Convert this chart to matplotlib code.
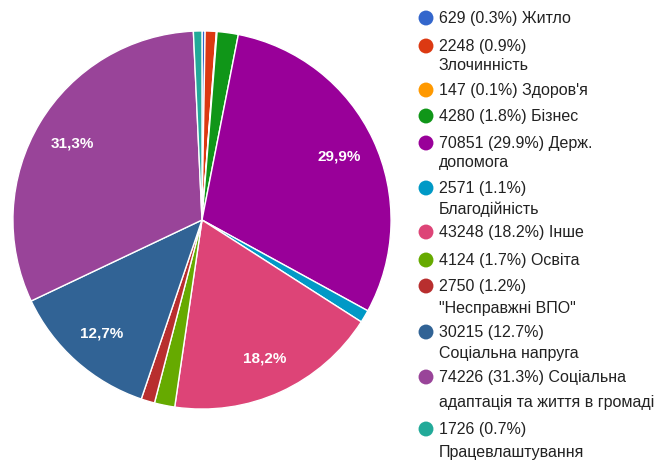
import matplotlib
matplotlib.use('Agg')
import matplotlib.pyplot as plt

plt.rcParams['font.family'] = ['Liberation Sans', 'DejaVu Sans']

# дані з діаграми
categories = ['Житло', 'Злочинність', "Здоров'я", 'Бізнес', 'Держ.\nдопомога',
              'Благодійність', 'Інше', 'Освіта', '"Несправжні ВПО"',
              'Соціальна напруга', 'Соціальна\nадаптація та життя в громаді',
              'Працевлаштування']
values = [629, 2248, 147, 4280, 70851, 2571, 43248, 4124, 2750, 30215, 74226, 1726]
colors = ['#3366cc', '#dc3912', '#ff9900', '#109618', '#990099', '#0099c6',
          '#dd4477', '#66aa00', '#b82e2e', '#316395', '#994499', '#22aa99']
# перенос рядка після відсотка чи ні
wrap_after_pct = [False, True, False, False, False, True, False, False, True, True, False, True]

total = sum(values)

fig = plt.figure(figsize=(6.6, 4.64), dpi=100)

ax = fig.add_axes([12 / 660, (464 - 221 - 190) / 464, 380 / 660, 380 / 464])


def fmt(p):
    if p < 5:
        return ''
    return f'{p:.1f}%'.replace('.', ',')


wedges, texts, autotexts = ax.pie(
    values, colors=colors, startangle=90, counterclock=False, radius=1,
    autopct=fmt, pctdistance=0.8,
    wedgeprops=dict(edgecolor='white', linewidth=1),
    textprops=dict(color='white', fontsize=11, fontweight='bold'))
ax.set_xlim(-1.005, 1.005)
ax.set_ylim(-1.005, 1.005)
ax.set_aspect('equal')

# легенда вручну (позиції рядків у пікселях)
leg = fig.add_axes([0, 0, 1, 1])
leg.set_xlim(0, 660)
leg.set_ylim(464, 0)
leg.axis('off')

row_y = [19, 47, 91, 117, 144, 189, 233, 261, 287, 333, 378, 430]
line_gap = [19, 19, 19, 19, 19, 20, 20, 20, 22, 21, 25, 23]

for name, v, c, w, y, g in zip(categories, values, colors, wrap_after_pct, row_y, line_gap):
    pct = v / total * 100
    sep = '\n' if w else ' '
    label = f'{v} ({pct:.1f}%){sep}{name}'
    leg.scatter([426], [y], s=115, color=c, edgecolors='none')
    for i, line in enumerate(label.split('\n')):
        leg.text(439, y + i * g, line, fontsize=11.5, color='#222222',
                 va='center', ha='left')

fig.savefig('out.png', dpi=100)
